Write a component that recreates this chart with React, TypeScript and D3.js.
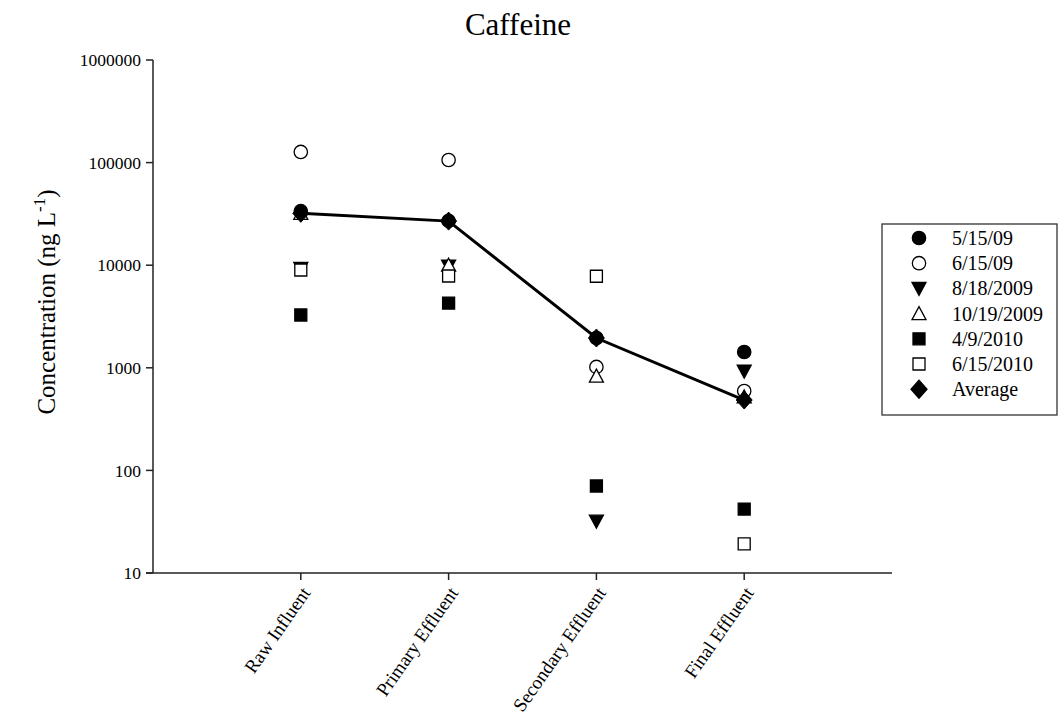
import React from "react";
import * as d3 from "d3";

const categories = ["Raw Influent", "Primary Effluent", "Secondary Effluent", "Final Effluent"];
const seriesNames = ["5/15/09", "6/15/09", "8/18/2009", "10/19/2009", "4/9/2010", "6/15/2010"];
const seriesShapes = ["circleFilled", "circleOpen", "triDownFilled", "triUpOpen", "squareFilled", "squareOpen"];
const s_5_15_09 = [33700, 27000, 1950, 1425];
const s_6_15_09 = [127000, 106000, 1020, 594];
const s_8_18_2009 = [9300, 9800, 32, 930];
const s_10_19_2009 = [32000, 10000, 830, 520];
const s_4_9_2010 = [3270, 4270, 70.5, 42];
const s_6_15_2010 = [8980, 7850, 7800, 19.2];
const averageValues = [32000, 26900, 1950, 485];
const yTicks = [10, 100, 1000, 10000, 100000, 1000000];

const W = 1059, H = 725;
const left = 153, right = 892, top = 60, bottom = 573;
const FONT = "'Liberation Serif', 'Times New Roman', serif";

function markerPath(shape: string): string {
  switch (shape) {
    case "circleFilled":
    case "circleOpen":
      return d3.symbol(d3.symbolCircle, 140)()!;
    case "triDownFilled":
      return "M-7,-6L7,-6L0,7Z";
    case "triUpOpen":
      return "M0,-7L7,6L-7,6Z";
    case "squareFilled":
    case "squareOpen":
      return "M-6,-6L6,-6L6,6L-6,6Z";
    case "diamond":
      return "M0,-9L8,0L0,9L-8,0Z";
  }
  return "";
}
const isFilled = (s: string) => s.includes("Filled") || s === "diamond";

export default function App() {
  const seriesValues = [s_5_15_09, s_6_15_09, s_8_18_2009, s_10_19_2009, s_4_9_2010, s_6_15_2010];
  const x = d3.scaleLinear().domain([0, 5]).range([left, right]);
  const y = d3.scaleLog().domain([10, 1000000]).range([bottom, top]);
  const line = d3.line<number>().x((_, i) => x(i + 1)).y((d) => y(d));

  const legendItems = [...seriesNames.map((n, i) => ({ name: n, shape: seriesShapes[i] })), { name: "Average", shape: "diamond" }];

  return (
    <svg width={W} height={H} style={{ position: "absolute", left: 0, top: 0, background: "#fff" }} fontFamily={FONT}>
      <rect width={W} height={H} fill="#fff" />
      <text x={518} y={35} textAnchor="middle" fontSize={31}>Caffeine</text>

      {/* y axis */}
      <line x1={left} x2={left} y1={top} y2={bottom} stroke="#222" strokeWidth={1.5} />
      {yTicks.map((t) => (
        <g key={t}>
          <line x1={left - 7} x2={left} y1={y(t)} y2={y(t)} stroke="#222" strokeWidth={1.5} />
          <text x={left - 12} y={y(t)} dy="0.35em" textAnchor="end" fontSize={17.5}>{t}</text>
        </g>
      ))}
      <text transform={`translate(55,${302}) rotate(-90)`} textAnchor="middle" fontSize={25}>
        Concentration (ng L<tspan dy={-10} fontSize={17}>-1</tspan><tspan dy={10}>)</tspan>
      </text>

      {/* x axis */}
      <line x1={left - 7} x2={right} y1={bottom} y2={bottom} stroke="#222" strokeWidth={1.5} />
      {categories.map((c, i) => (
        <g key={c}>
          <line x1={x(i + 1)} x2={x(i + 1)} y1={bottom} y2={bottom + 7} stroke="#222" strokeWidth={1.5} />
          <text transform={`translate(${x(i + 1) + 5},${bottom + 16}) rotate(-55)`} textAnchor="end" dy="0.35em" fontSize={19}>{c}</text>
        </g>
      ))}

      {/* average line */}
      <path d={line(averageValues)!} fill="none" stroke="#000" strokeWidth={3} />

      {/* series points */}
      {seriesValues.map((vals, si) =>
        vals.map((v, i) => (
          <path key={`${si}-${i}`} d={markerPath(seriesShapes[si])}
            transform={`translate(${x(i + 1)},${y(v)})`}
            fill={isFilled(seriesShapes[si]) ? "#000" : "#fff"} stroke="#000" strokeWidth={1.3} />
        ))
      )}
      {averageValues.map((v, i) => (
        <path key={`avg-${i}`} d={markerPath("diamond")} transform={`translate(${x(i + 1)},${y(v)})`} fill="#000" stroke="#000" />
      ))}

      {/* legend */}
      <rect x={882} y={224} width={175} height={191} fill="#fff" stroke="#333" strokeWidth={1.3} />
      {legendItems.map((it, i) => (
        <g key={it.name} transform={`translate(0,${238 + i * 25.2})`}>
          <path d={markerPath(it.shape)} transform="translate(919,0)" fill={isFilled(it.shape) ? "#000" : "#fff"} stroke="#000" strokeWidth={1.3} />
          <text x={952} y={0} dy="0.35em" fontSize={20}>{it.name}</text>
        </g>
      ))}
    </svg>
  );
}
